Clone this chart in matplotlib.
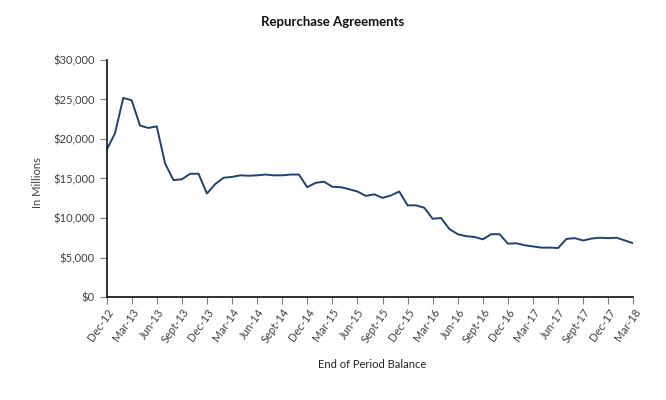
import matplotlib
matplotlib.use('Agg')
import matplotlib.pyplot as plt
from matplotlib.ticker import FuncFormatter

# monthly end-of-period balance, Dec-12 .. Mar-18 (millions of $)
values = [18600, 20700, 25200, 24900, 21700, 21400, 21600, 16900, 14800, 14900,
          15600, 15600, 13100, 14300, 15100, 15200, 15400, 15350, 15400, 15500,
          15400, 15400, 15500, 15500, 13900, 14450, 14600, 13950, 13900, 13650,
          13350, 12800, 13000, 12550, 12850, 13350, 11600, 11600, 11300, 9900,
          10000, 8600, 7950, 7700, 7600, 7300, 7950, 7950, 6750, 6800,
          6550, 6400, 6250, 6250, 6200, 7350, 7450, 7150, 7400, 7500,
          7450, 7500, 7150, 6800]
months = list(range(len(values)))
tick_labels = ['Dec-12', 'Mar-13', 'Jun-13', 'Sept-13', 'Dec-13', 'Mar-14', 'Jun-14',
               'Sept-14', 'Dec-14', 'Mar-15', 'Jun-15', 'Sept-15', 'Dec-15', 'Mar-16',
               'Jun-16', 'Sept-16', 'Dec-16', 'Mar-17', 'Jun-17', 'Sept-17', 'Dec-17',
               'Mar-18']
tick_pos = list(range(0, len(values), 3))

plt.rcParams['font.family'] = ['Lato', 'DejaVu Sans']

fig = plt.figure(figsize=(6.66, 4.0), dpi=100)
ax = fig.add_axes([0.160, 0.2575, 0.791, 0.5925])

ax.plot(months, values, color='#1f4273', lw=1.4)

ax.set_xlim(0, len(values) - 1)
ax.set_ylim(0, 30000)
ax.set_yticks(range(0, 30001, 5000))
ax.yaxis.set_major_formatter(FuncFormatter(lambda v, p: f'${int(v):,}'))
ax.set_xticks(tick_pos)
ax.set_xticklabels(tick_labels, rotation=55, ha='right', rotation_mode='anchor')

for s in ['top', 'right']:
    ax.spines[s].set_visible(False)
for s in ['left', 'bottom']:
    ax.spines[s].set_color('#222222')
    ax.spines[s].set_linewidth(1.3)
ax.tick_params(axis='both', direction='out', length=5, width=0.8, color='#7f7f7f',
               labelsize=8, labelcolor='#404040')
ax.tick_params(axis='x', pad=2)

fig.text(0.5, 0.945, 'Repurchase Agreements', ha='center', va='center',
         fontsize=9.5, fontweight='bold', color='#111111')
fig.text(0.056, 0.5425, 'In Millions', rotation=90, ha='center', va='center',
         fontsize=8, color='#404040')
fig.text(0.558, 0.0875, 'End of Period Balance', ha='center', va='center',
         fontsize=8, color='#222222')

plt.savefig('out.png', dpi=100, facecolor='w')
